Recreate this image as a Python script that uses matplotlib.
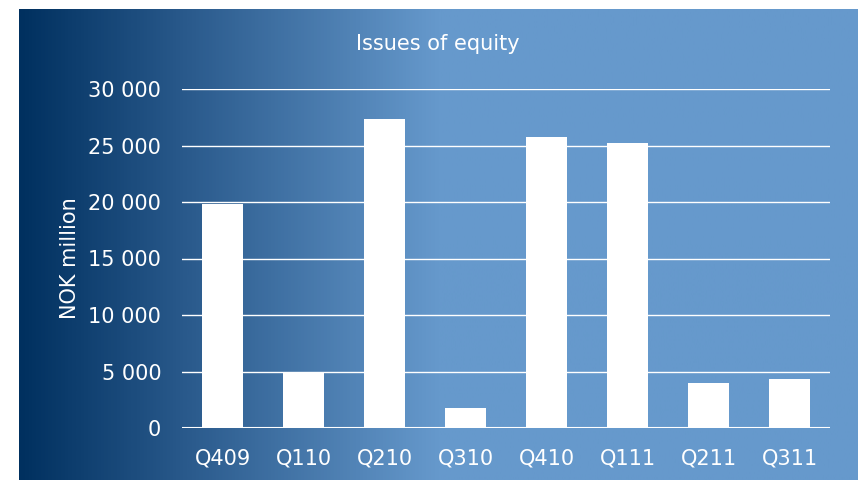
import numpy as np
import matplotlib.pyplot as plt
from matplotlib.colors import LinearSegmentedColormap

quarters = ['Q409', 'Q110', 'Q210', 'Q310', 'Q410', 'Q111', 'Q211', 'Q311']
issues = [19850, 4850, 27350, 1780, 25750, 25250, 3980, 4330]
yticks = [0, 5000, 10000, 15000, 20000, 25000, 30000]
ytick_labels = ['0', '5 000', '10 000', '15 000', '20 000', '25 000', '30 000']

fig = plt.figure(figsize=(8.58, 4.8), dpi=100)

# gradient background panel
bg = fig.add_axes([19 / 858, 0, 1 - 19 / 858, 1 - 9 / 480])
cmap = LinearSegmentedColormap.from_list(
    'bg', [(0, '#00305f'), (0.2, '#2a5a8c'), (0.5, '#6699cc'), (1, '#6699cc')])
grad = np.linspace(0, 1, 512).reshape(1, -1)
bg.imshow(grad, aspect='auto', cmap=cmap, extent=[0, 1, 0, 1])
bg.set_axis_off()

ax = fig.add_axes([182 / 858, 1 - 428 / 480, (830 - 182) / 858, (428 - 89) / 480])
ax.patch.set_alpha(0)
x = np.arange(len(quarters))
ax.bar(x, issues, width=0.5, color='white', zorder=3)
ax.set_xlim(-0.5, len(quarters) - 0.5)
ax.set_ylim(0, 30000)
ax.set_yticks(yticks)
ax.set_yticklabels(ytick_labels)
ax.set_xticks(x)
ax.set_xticklabels(quarters)
ax.grid(axis='y', color='white', linewidth=1.0, zorder=1)
for s in ax.spines.values():
    s.set_visible(False)
ax.axhline(0, color='white', linewidth=1.5, zorder=4)
ax.tick_params(axis='y', colors='white', labelsize=15, length=0, pad=15)
ax.tick_params(axis='x', colors='white', labelsize=15, length=0, pad=15)
ax.set_ylabel('NOK million', color='white', fontsize=15, labelpad=6)

fig.text(438 / 858, 1 - 44 / 480, 'Issues of equity', color='white',
         fontsize=15, ha='center', va='center')

fig.savefig('out.png', dpi=100)
